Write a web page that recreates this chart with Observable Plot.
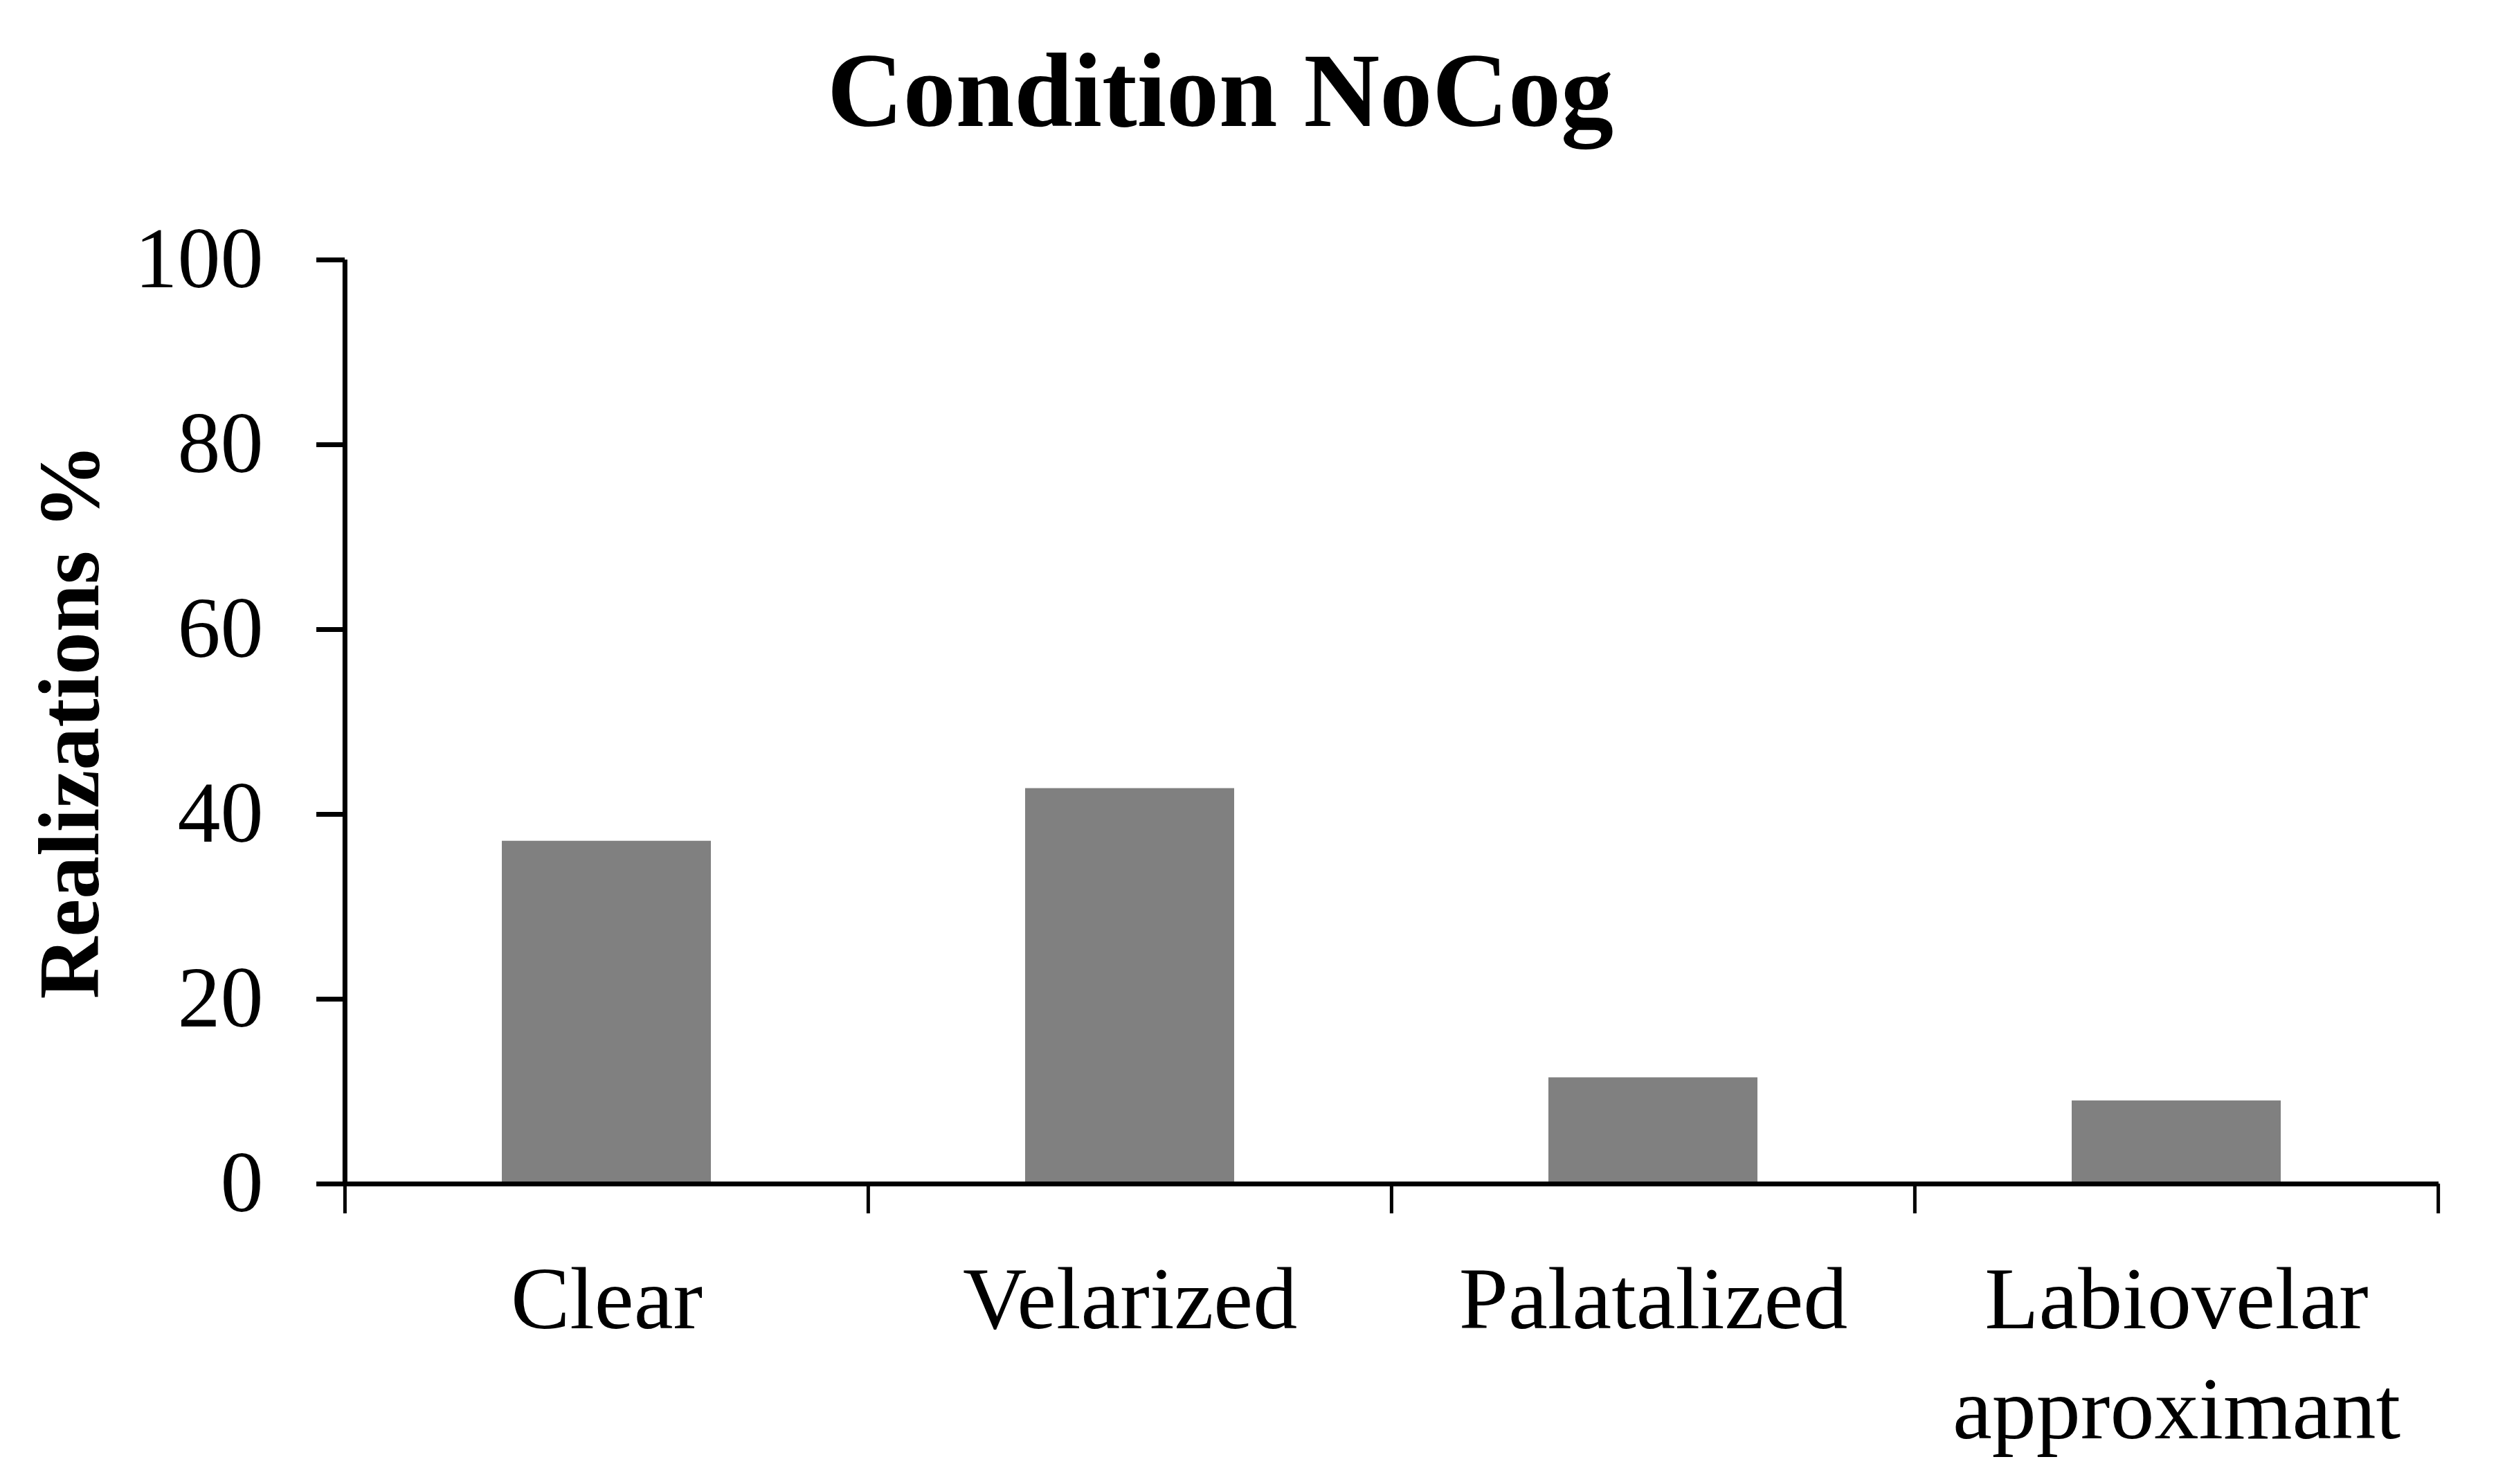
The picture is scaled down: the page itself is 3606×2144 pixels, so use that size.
<!DOCTYPE html>
<html>
<head>
<meta charset="utf-8">
<script src="https://cdn.jsdelivr.net/npm/d3@7"></script>
<script src="https://cdn.jsdelivr.net/npm/@observablehq/plot@0.6"></script>
<style>
  html, body { margin: 0; padding: 0; background: #ffffff; }
  #wrap { position: relative; width: 3606px; height: 2144px; }
  #title {
    width: 3606px; height: 300px; box-sizing: border-box;
    padding-top: 55px; padding-right: 80px;
    text-align: center;
    font-family: "Liberation Serif", serif; font-weight: bold;
    font-size: 152px; line-height: 152px; color: #000;
  }
  #ylabel {
    position: absolute; left: 101px; top: 1042px;
    transform: translate(-50%, -50%) rotate(-90deg);
    white-space: nowrap;
    font-family: "Liberation Serif", serif; font-weight: bold;
    font-size: 124px; line-height: 124px; color: #000;
  }
</style>
</head>
<body>
<div id="wrap">
  <div id="title"></div>
  <div id="chart"></div>
  <div id="ylabel"></div>
</div>
<script>
const title = "Condition NoCog";
const yLabel = "Realizations %";
const categories = ["Clear", "Velarized", "Palatalized", "Labiovelar approximant"];
const values = [37.1, 42.8, 11.5, 9.0];
const yTicks = [0, 20, 40, 60, 80, 100];

const data = categories.map((c, i) => ({category: c, value: values[i]}));

document.getElementById("title").textContent = title;
document.getElementById("ylabel").textContent = yLabel;

const W = 3606, H = 1844;
const mL = 498, mR = 83, mT = 75, mB = 434;
const step = (W - mL - mR) / categories.length;

const chart = Plot.plot({
  width: W,
  height: H,
  marginLeft: mL,
  marginRight: mR,
  marginTop: mT,
  marginBottom: mB,
  style: {fontFamily: "'Liberation Serif', serif", background: "#ffffff", color: "#000000", overflow: "visible"},
  x: {domain: categories, paddingInner: 0.6, paddingOuter: 0.3, label: null},
  y: {domain: [0, 100], label: null},
  marks: [
    Plot.barY(data, {x: "category", y: "value", fill: "#808080"}),
    Plot.axisY({ticks: yTicks, tickSize: 41, tickPadding: 77, fontSize: 124, strokeWidth: 7, label: null}),
    Plot.axisX({tickSize: 0, tickPadding: 96, fontSize: 128, lineHeight: 1.24,
                tickFormat: d => d.replace(" ", "\n"), label: null}),
    Plot.axisX({tickSize: 43, tickFormat: () => "", dx: -step / 2, strokeWidth: 5, label: null}),
    Plot.axisX({ticks: [categories[categories.length - 1]], tickSize: 43, tickFormat: () => "", dx: step / 2, strokeWidth: 5, label: null}),
    Plot.ruleY([0], {strokeWidth: 7}),
    Plot.ruleX([categories[0]], {y1: 0, y2: 100, dx: -step / 2, strokeWidth: 7})
  ]
});
document.getElementById("chart").appendChild(chart);
</script>
</body>
</html>
